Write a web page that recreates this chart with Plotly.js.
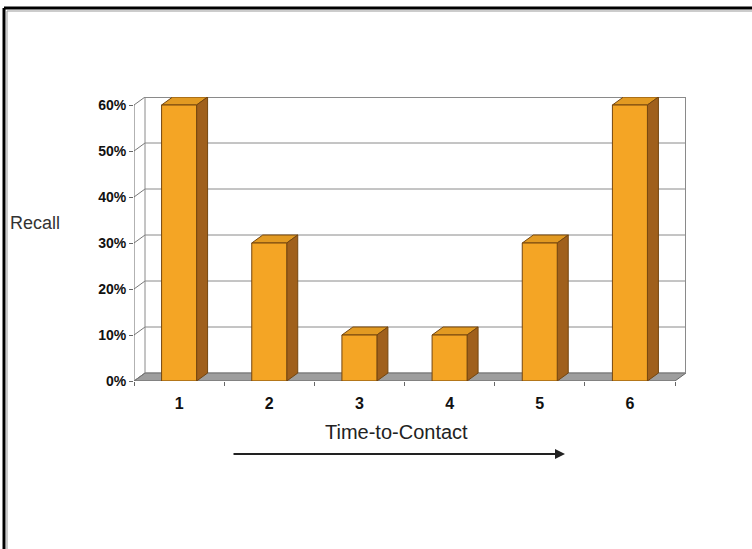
<!DOCTYPE html>
<html>
<head>
<meta charset="utf-8">
<script src="https://cdn.plot.ly/plotly-3.0.1.min.js"></script>
<style>
  html, body { margin: 0; padding: 0; background: #ffffff; }
  #chart { width: 752px; height: 549px; }
</style>
</head>
<body>
<div id="chart"></div>
<script>
// ---- data ----
const categories = [1, 2, 3, 4, 5, 6];
const categoryLabels = ['1', '2', '3', '4', '5', '6'];
const recall = [0.6, 0.3, 0.1, 0.1, 0.3, 0.6];
const yTickValues = [0, 0.1, 0.2, 0.3, 0.4, 0.5, 0.6];
const yTickLabels = ['0%', '10%', '20%', '30%', '40%', '50%', '60%'];
const xBoundaries = [0.5, 1.5, 2.5, 3.5, 4.5, 5.5, 6.5];
const xTitle = 'Time-to-Contact';
const yTitle = 'Recall';

// ---- style (3D depth expressed in axis units) ----
const DX = 0.122;     // depth along x (category units)
const DY = 0.0174;    // depth along y (value units)
const BAR_W = 0.388;
const xMin = xBoundaries[0], xMax = xBoundaries[xBoundaries.length - 1];
const yMax = yTickValues[yTickValues.length - 1];

const FRONT = '#F4A525';
const TOP = '#E29A22';
const SIDE = '#A0601C';
const EDGE = '#74460F';
const WALL = '#8a8a8a';

const shapes = [];
// floor
shapes.push({type: 'path', xref: 'x', yref: 'y', layer: 'below',
  path: `M${xMin},0 L${xMax},0 L${xMax + DX},${DY} L${xMin + DX},${DY} Z`,
  fillcolor: '#9e9e9e', line: {color: '#666', width: 1}});
// back wall gridlines + connectors
yTickValues.forEach(v => {
  shapes.push({type: 'line', xref: 'x', yref: 'y', layer: 'below',
    x0: xMin + DX, x1: xMax + DX, y0: v + DY, y1: v + DY,
    line: {color: WALL, width: 1}});
  shapes.push({type: 'line', xref: 'x', yref: 'y', layer: 'below',
    x0: xMin, x1: xMin + DX, y0: v, y1: v + DY,
    line: {color: '#777', width: 1}});
});
// back wall edges
shapes.push({type: 'line', xref: 'x', yref: 'y', layer: 'below',
  x0: xMin + DX, x1: xMin + DX, y0: DY, y1: yMax + DY, line: {color: WALL, width: 1}});
shapes.push({type: 'line', xref: 'x', yref: 'y', layer: 'below',
  x0: xMax + DX, x1: xMax + DX, y0: DY, y1: yMax + DY, line: {color: WALL, width: 2}});
shapes.push({type: 'line', xref: 'x', yref: 'y', layer: 'below',
  x0: xMin + DX, x1: xMax + DX, y0: yMax + DY, y1: yMax + DY, line: {color: WALL, width: 2}});
// front axis line
shapes.push({type: 'line', xref: 'x', yref: 'y', layer: 'below',
  x0: xMin, x1: xMin, y0: 0, y1: yMax, line: {color: '#666', width: 1}});

// bar top & side faces
categories.forEach((c, i) => {
  const v = recall[i];
  const l = c - BAR_W / 2, r = c + BAR_W / 2;
  shapes.push({type: 'path', xref: 'x', yref: 'y', layer: 'below',
    path: `M${l},${v} L${r},${v} L${r + DX},${v + DY} L${l + DX},${v + DY} Z`,
    fillcolor: TOP, line: {color: EDGE, width: 1}});
  shapes.push({type: 'path', xref: 'x', yref: 'y', layer: 'below',
    path: `M${r},0 L${r},${v} L${r + DX},${v + DY} L${r + DX},${DY} Z`,
    fillcolor: SIDE, line: {color: EDGE, width: 1}});
});

// outer frame (paper coords)
shapes.push({type: 'line', xref: 'paper', yref: 'paper',
  x0: -0.2355, x1: 1.13, y0: 1.3134, y1: 1.3134, line: {color: '#000', width: 3}});
shapes.push({type: 'line', xref: 'paper', yref: 'paper',
  x0: -0.2355, x1: -0.2355, y0: 1.3134, y1: -0.62, line: {color: '#000', width: 3}});
shapes.push({type: 'line', xref: 'paper', yref: 'paper',
  x0: -0.2301, x1: 1.13, y0: 1.3028, y1: 1.3028, line: {color: '#999', width: 1}});
shapes.push({type: 'line', xref: 'paper', yref: 'paper',
  x0: -0.2301, x1: -0.2301, y0: 1.3028, y1: -0.62, line: {color: '#999', width: 1}});

const data = [{
  type: 'bar',
  x: categories,
  y: recall,
  width: BAR_W,
  marker: {color: FRONT, line: {color: EDGE, width: 1}},
  hoverinfo: 'x+y'
}];

const font = 'Arial, "Liberation Sans", sans-serif';
const layout = {
  width: 752, height: 549,
  margin: {l: 134, r: 66, t: 97, b: 168, pad: 0},
  paper_bgcolor: '#ffffff', plot_bgcolor: 'rgba(0,0,0,0)',
  showlegend: false,
  font: {family: font, color: '#222'},
  xaxis: {
    type: 'linear', range: [xMin, xMax + DX],
    tickmode: 'array', tickvals: categories, ticktext: categoryLabels,
    ticks: '', showgrid: false, zeroline: false, showline: false,
    tickfont: {family: font, size: 16, color: '#111', weight: 'bold'},
    ticklabelstandoff: 11,
    minor: {tickmode: 'array', tickvals: xBoundaries, ticks: 'outside', ticklen: 4, tickcolor: '#666', showgrid: false}
  },
  yaxis: {
    range: [0, yMax + DY],
    tickmode: 'array', tickvals: yTickValues, ticktext: yTickLabels,
    ticks: 'outside', ticklen: 4, tickcolor: '#666',
    showgrid: false, zeroline: false, showline: false,
    tickfont: {family: font, size: 14, color: '#111', weight: 'bold'}
  },
  shapes: shapes,
  annotations: [
    {xref: 'paper', yref: 'paper', x: -0.2283, y: 0.5563, xanchor: 'left', yanchor: 'middle',
     text: yTitle, showarrow: false, font: {family: font, size: 18, color: '#333'}},
    {xref: 'paper', yref: 'paper', x: 0.4764, y: -0.1796, xanchor: 'center', yanchor: 'middle',
     text: xTitle, showarrow: false, font: {family: font, size: 20, color: '#222'}},
    {xref: 'paper', yref: 'paper', x: 0.7808, y: -0.257, ax: -333, ay: 0, text: '',
     showarrow: true, arrowhead: 2, arrowsize: 1, arrowwidth: 2, arrowcolor: '#222'}
  ]
};

Plotly.newPlot('chart', data, layout, {displayModeBar: false, staticPlot: true});
</script>
</body>
</html>
